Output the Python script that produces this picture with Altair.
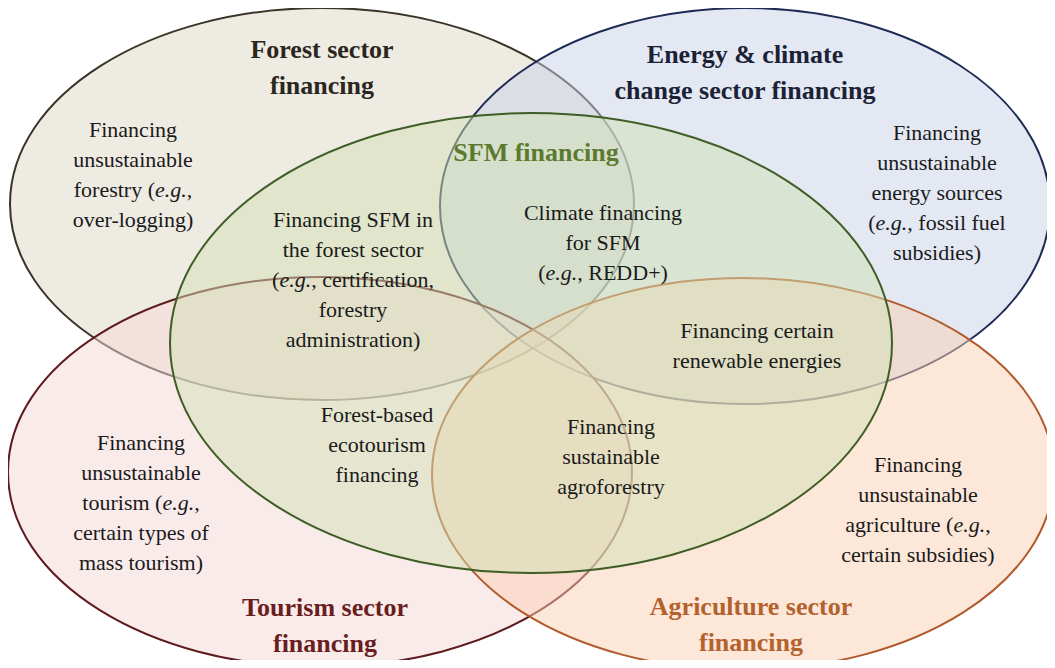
import altair as alt
import pandas as pd

# ---------------- Ellipses (reference pixel coordinates) ----------------
ell_names = ["Forest", "Energy", "Tourism", "Agriculture", "SFM"]
ell_cx = [322, 745, 320, 743, 531]
ell_cy = [204, 206, 472, 474, 343]
ell_rx = [312, 305, 312, 311, 361]
ell_ry = [196, 198, 195, 196, 230]

ell_fill = ["#DDD7C7", "#C7D1E7", "#F5D7D7", "#F9CFB3", "#D2DFB3"]
ell_alpha = [0.5, 0.5, 0.5, 0.5, 0.6]
ell_stroke = ["#3A3428", "#1E2B55", "#5E1A1E", "#B15A2B", "#3F5E25"]

# ---------------- Text blocks ----------------
block_role = ["forest_t", "body", "energy_t", "body", "sfm_t", "body", "body",
              "body", "body", "body", "body", "tourism_t", "body", "agri_t"]
block_lines = [
    ["Forest sector", "financing"],
    ["Financing", "unsustainable", "forestry (e.g.,", "over-logging)"],
    ["Energy & climate", "change sector financing"],
    ["Financing", "unsustainable", "energy sources", "(e.g., fossil fuel", "subsidies)"],
    ["SFM financing"],
    ["Financing SFM in", "the forest sector", "(e.g., certification,", "forestry", "administration)"],
    ["Climate financing", "for SFM", "(e.g., REDD+)"],
    ["Financing certain", "renewable energies"],
    ["Forest-based", "ecotourism", "financing"],
    ["Financing", "sustainable", "agroforestry"],
    ["Financing", "unsustainable", "tourism (e.g.,", "certain types of", "mass tourism)"],
    ["Tourism sector", "financing"],
    ["Financing", "unsustainable", "agriculture (e.g.,", "certain subsidies)"],
    ["Agriculture sector", "financing"],
]
block_x = [322, 133, 745, 937, 536, 353, 603, 757, 377, 611, 141, 325, 918, 751]
block_y = [50, 130, 55, 133, 153, 220, 213, 331, 415, 427, 443, 608, 465, 607]

title_roles = ["forest_t", "energy_t", "sfm_t", "tourism_t", "agri_t"]
title_colors = ["#2B261E", "#1B2236", "#5B7A2E", "#6A1E1E", "#B4622D"]

BODY_FS, TITLE_FS = 22, 26
BODY_LH, TITLE_LH = 30, 36
FONT = "Liberation Serif"
W, H = 1039, 652

# Times-metric character widths (per 1000 em) for splitting italic "e.g."
CW = {" ": 250, "(": 333, ")": 333, "+": 564, ",": 250, "-": 333, ".": 250,
      "a": 444, "b": 500, "c": 444, "d": 500, "e": 444, "f": 333, "g": 500,
      "h": 500, "i": 278, "j": 278, "k": 500, "l": 278, "m": 778, "n": 500,
      "o": 500, "p": 500, "q": 500, "r": 333, "s": 389, "t": 278, "u": 500,
      "v": 500, "w": 722, "x": 500, "y": 500, "z": 444,
      "D": 722, "E": 611, "R": 667}


def tw(s):
    return sum(CW.get(c, 500) for c in s) / 1000.0 * BODY_FS


rows_c, rows_r, rows_i, rows_l, rows_t = [], [], [], [], []
for role, lines, bx, by in zip(block_role, block_lines, block_x, block_y):
    lh = TITLE_LH if role != "body" else BODY_LH
    for j, line in enumerate(lines):
        y = by + j * lh
        if role != "body":
            rows_t.append({"x": bx, "y": y, "t": line, "role": role})
        elif "e.g." in line:
            k = line.index("e.g.")
            pre, post = line[:k], line[k + 4:]
            total = tw(pre) + tw("e.g.") + tw(post)
            x1 = bx - total / 2 + tw(pre)
            x2 = x1 + tw("e.g.")
            if pre:
                rows_r.append({"x": x1, "y": y, "t": pre})
            rows_i.append({"x": x1, "y": y, "t": "e.g."})
            if post:
                rows_l.append({"x": x2, "y": y, "t": post})
        else:
            rows_c.append({"x": bx, "y": y, "t": line})

xs = alt.Scale(domain=[8, 8 + W], nice=False, zero=False)
ys = alt.Scale(domain=[8, 8 + H], nice=False, zero=False, reverse=True)

KAP = 0.5523


def ell_path(a):
    return (f"M-1,0 C-1,{-a*KAP:.4f} {-KAP},{-a:.4f} 0,{-a:.4f} "
            f"C{KAP},{-a:.4f} 1,{-a*KAP:.4f} 1,0 "
            f"C1,{a*KAP:.4f} {KAP},{a:.4f} 0,{a:.4f} "
            f"C{-KAP},{a:.4f} -1,{a*KAP:.4f} -1,0 Z")


ell_shapes = [ell_path(ry / rx) for rx, ry in zip(ell_rx, ell_ry)]

ell_df = pd.DataFrame({"name": ell_names, "cx": ell_cx, "cy": ell_cy,
                       "rx": ell_rx, "idx": list(range(len(ell_names)))})

ellipses = alt.Chart(ell_df).transform_calculate(
    sz="pow(2*datum.rx, 2)"
).mark_point(filled=True, opacity=1, strokeOpacity=1, strokeWidth=2).encode(
    x=alt.X("cx:Q", scale=xs, axis=None),
    y=alt.Y("cy:Q", scale=ys, axis=None),
    size=alt.Size("sz:Q", scale=None, legend=None),
    shape=alt.Shape("name:N", scale=alt.Scale(domain=ell_names, range=ell_shapes), legend=None),
    fill=alt.Fill("name:N", scale=alt.Scale(domain=ell_names, range=ell_fill), legend=None),
    fillOpacity=alt.FillOpacity("name:N", scale=alt.Scale(domain=ell_names, range=ell_alpha), legend=None),
    stroke=alt.Stroke("name:N", scale=alt.Scale(domain=ell_names, range=ell_stroke), legend=None),
    order=alt.Order("idx:Q"),
)


def text_layer(rows, align, style="normal"):
    return alt.Chart(pd.DataFrame(rows)).mark_text(
        font=FONT, fontSize=BODY_FS, align=align, baseline="middle",
        color="#1A1A1A", fontStyle=style
    ).encode(
        x=alt.X("x:Q", scale=xs, axis=None),
        y=alt.Y("y:Q", scale=ys, axis=None),
        text="t:N",
    )


titles = alt.Chart(pd.DataFrame(rows_t)).mark_text(
    font=FONT, fontSize=TITLE_FS, fontWeight="bold", align="center", baseline="middle"
).encode(
    x=alt.X("x:Q", scale=xs, axis=None),
    y=alt.Y("y:Q", scale=ys, axis=None),
    text="t:N",
    color=alt.Color("role:N", scale=alt.Scale(domain=title_roles, range=title_colors), legend=None),
)

chart = alt.layer(
    ellipses,
    text_layer(rows_c, "center"),
    text_layer(rows_r, "right"),
    text_layer(rows_i, "left", "italic"),
    text_layer(rows_l, "left"),
    titles,
).properties(
    width=W, height=H, padding=0,
    autosize=alt.AutoSizeParams(type="none"),
    background="white",
).configure_view(strokeWidth=0)

chart.save("out.html", embed_options={"renderer": "svg", "actions": False})
